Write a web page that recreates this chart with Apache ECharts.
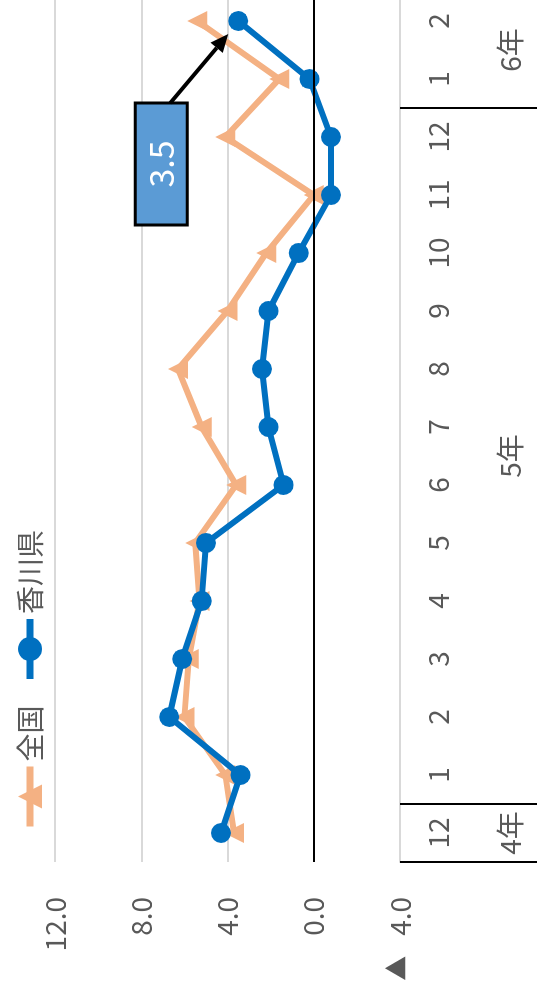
<!DOCTYPE html>
<html>
<head>
<meta charset="utf-8">
<script src="https://cdn.jsdelivr.net/npm/echarts@6/dist/echarts.min.js"></script>
<style>
  html, body { margin: 0; padding: 0; width: 537px; height: 984px; overflow: hidden; background: #fff; }
  /* The chart is laid out landscape and turned a quarter turn counter-clockwise;
     its far end runs a little past the top of the page. */
  #chart {
    position: absolute; left: 0; top: 0;
    width: 1000px; height: 537px;
    transform-origin: 0 0;
    transform: translate(0, 984px) rotate(-90deg);
  }
</style>
</head>
<body>
<div id="chart"></div>
<script>
// Months along the category axis (令和4年12月 – 令和6年2月)
const months = ['12', '1', '2', '3', '4', '5', '6', '7', '8', '9', '10', '11', '12', '1', '2'];
// Year groups: label and the index of the first month in each group
const yearLabels = ['4年', '5年', '6年'];
const yearStart = [0, 1, 13];

// 前年同月比 (%)
const national = [3.7, 4.1, 6.0, 5.8, 5.3, 5.5, 3.6, 5.2, 6.3, 4.0, 2.2, 0.0, 4.1, 1.6, 5.4];
const kagawa   = [4.3, 3.4, 6.7, 6.1, 5.2, 5.0, 1.4, 2.1, 2.4, 2.1, 0.7, -0.8, -0.8, 0.2, 3.5];

// Value axis range
const valueMin = -4, valueMax = 12, valueStep = 4;

const FONT = '"Noto Sans CJK JP", "Noto Sans", sans-serif';
const GREY = '#595959';
const ORANGE = '#F4B183';
const BLUE = '#0070C0';

const yearEdges = yearStart.concat([months.length]);
const yearCenters = yearStart.map((s, i) => (s + yearEdges[i + 1]) / 2);

const lastIdx = kagawa.length - 1;
const calloutOffset = [-143, -77];

const chart = echarts.init(document.getElementById('chart'), null, { width: 1000, height: 537 });

const option = {
  animation: false,
  textStyle: { fontFamily: FONT },
  grid: { left: 122, width: 870, top: 55, height: 345, containLabel: false },
  legend: {
    left: 149, top: 11,
    itemWidth: 60, itemHeight: 30, itemGap: 23,
    lineStyle: { width: 7 },
    textStyle: { fontSize: 28, color: GREY, fontFamily: FONT },
    data: ['全国', '香川県']
  },
  xAxis: [
    {
      type: 'category',
      data: months,
      boundaryGap: true,
      axisLine: { onZero: false, lineStyle: { color: '#d9d9d9', width: 2 } },
      axisTick: { show: false },
      axisLabel: { color: GREY, fontSize: 28, margin: 24, interval: 0, fontFamily: FONT }
    },
    {
      // second tier: year groups with separators
      type: 'value',
      min: 0, max: months.length,
      position: 'bottom',
      axisLine: { show: false, onZero: false },
      splitLine: { show: false },
      axisTick: { show: true, customValues: yearEdges, length: 137, lineStyle: { color: '#000', width: 2 } },
      axisLabel: {
        customValues: yearCenters,
        formatter: v => { const i = yearCenters.indexOf(v); return i >= 0 ? yearLabels[i] : ''; },
        margin: 96, fontSize: 28, color: GREY, fontFamily: FONT
      }
    }
  ],
  yAxis: {
    type: 'value',
    min: valueMin, max: valueMax, interval: valueStep,
    axisLine: { show: false },
    axisTick: { show: false },
    splitLine: { lineStyle: { color: '#d9d9d9', width: 2 } },
    axisLabel: {
      margin: 35, fontSize: 28, color: GREY, fontFamily: FONT,
      formatter: v => v < 0 ? '{tri|▲}' + Math.abs(v).toFixed(1) : v.toFixed(1),
      rich: {
        tri: { fontSize: 25, color: GREY, padding: [0, 20, 8, 0], fontFamily: FONT }
      }
    }
  },
  series: [
    {
      // zero reference line
      type: 'line', data: [], z: 1, silent: true,
      markLine: {
        silent: true, symbol: 'none', label: { show: false },
        lineStyle: { color: '#000', width: 2, type: 'solid' },
        data: [{ yAxis: 0 }]
      }
    },
    {
      name: '全国', type: 'line', data: national, z: 3,
      symbol: 'triangle', symbolSize: 20,
      lineStyle: { color: ORANGE, width: 6 },
      itemStyle: { color: ORANGE }
    },
    {
      name: '香川県', type: 'line', z: 4,
      symbol: 'circle', symbolSize: 20,
      lineStyle: { color: BLUE, width: 6 },
      itemStyle: { color: BLUE },
      data: kagawa.map((v, i) => i === lastIdx ? {
        value: v,
        label: {
          show: true, position: 'inside', offset: calloutOffset,
          formatter: p => p.value.toFixed(1),
          color: '#fff', fontSize: 34, fontFamily: FONT,
          backgroundColor: '#5B9BD5', borderColor: '#000', borderWidth: 3,
          width: 119, height: 49, lineHeight: 49, align: 'center', verticalAlign: 'middle'
        }
      } : v)
    }
  ]
};
chart.setOption(option);

// Leader arrow from the callout box to the latest 香川県 point
const p = chart.convertToPixel({ xAxisIndex: 0, yAxisIndex: 0 }, [lastIdx, kagawa[lastIdx]]);
const start = [p[0] + calloutOffset[0] + 61, p[1] + calloutOffset[1] + 9];
const tip = [p[0] - 13, p[1] - 10];
const ang = Math.atan2(tip[1] - start[1], tip[0] - start[0]);
const headLen = 18, headHalf = 8;
const base = [tip[0] - headLen * Math.cos(ang), tip[1] - headLen * Math.sin(ang)];
const nx = -Math.sin(ang), ny = Math.cos(ang);
chart.setOption({
  graphic: [
    {
      type: 'line', z: 100,
      shape: { x1: start[0], y1: start[1], x2: base[0], y2: base[1] },
      style: { stroke: '#000', lineWidth: 4 }
    },
    {
      type: 'polygon', z: 100,
      shape: { points: [tip, [base[0] + nx * headHalf, base[1] + ny * headHalf], [base[0] - nx * headHalf, base[1] - ny * headHalf]] },
      style: { fill: '#000' }
    }
  ]
});
</script>
</body>
</html>
